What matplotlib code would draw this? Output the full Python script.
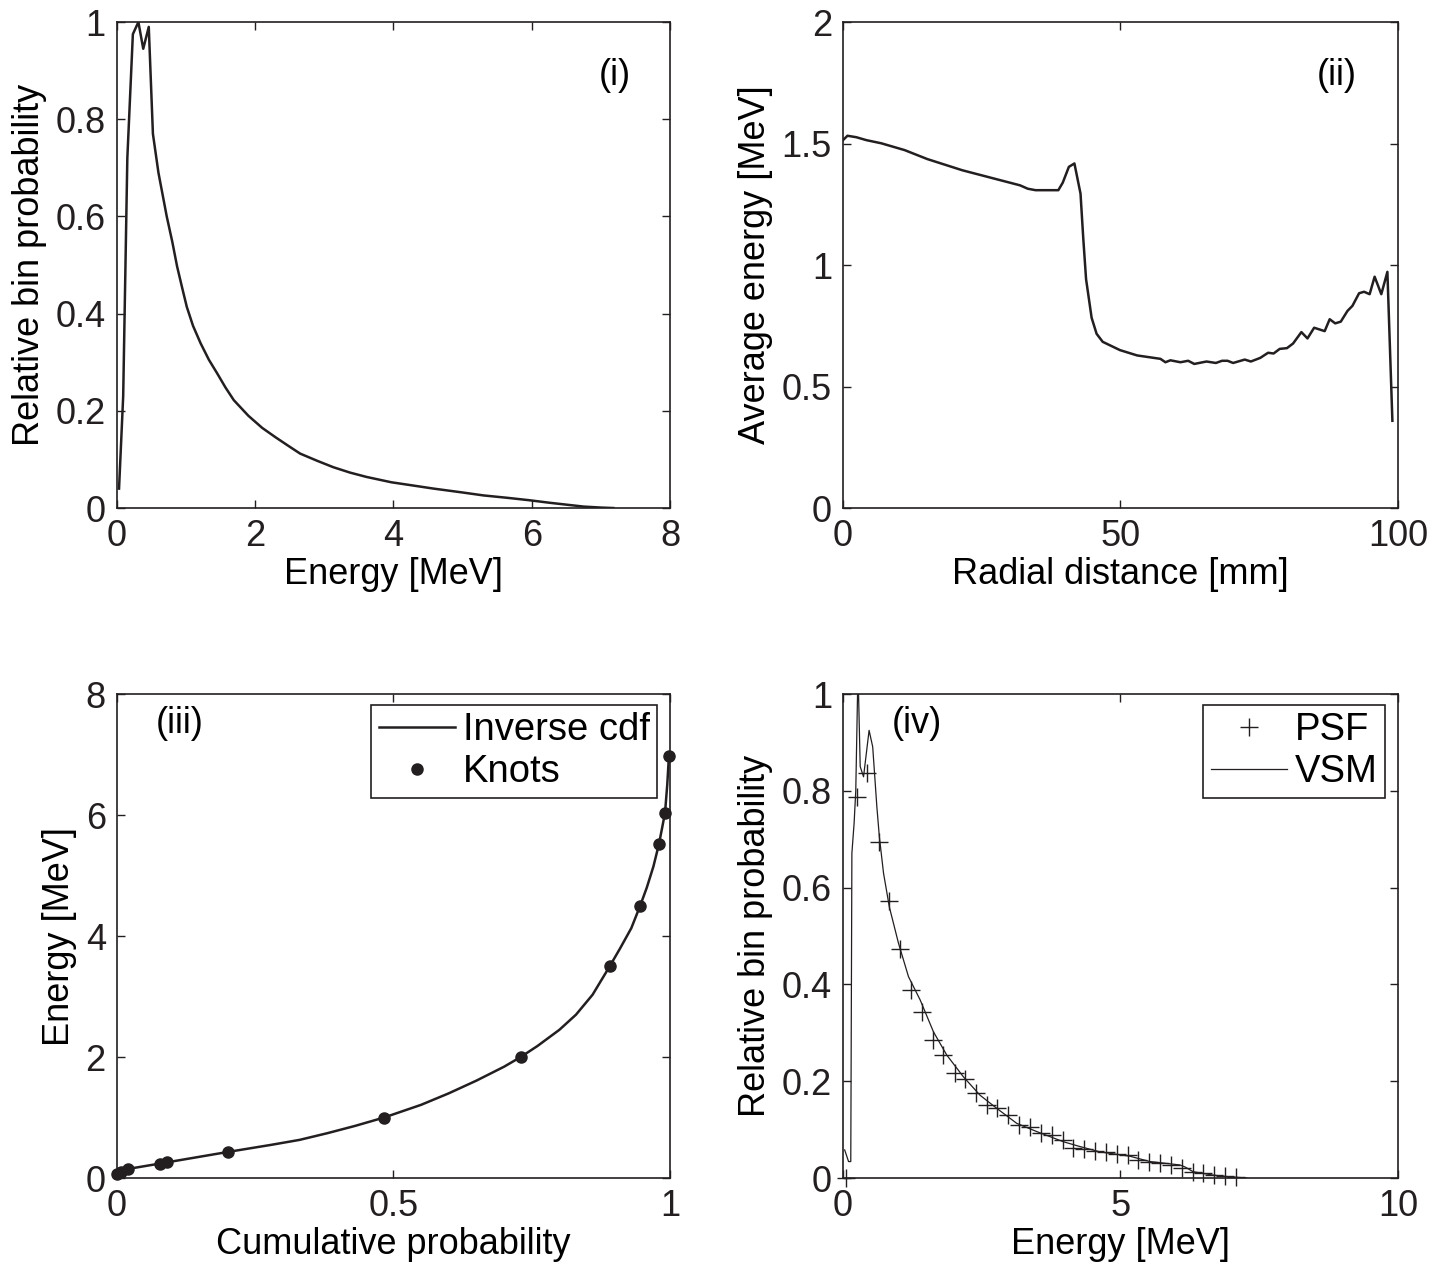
import matplotlib
matplotlib.use("Agg")
import matplotlib.pyplot as plt

plt.rcParams['font.family'] = ['Liberation Sans', 'DejaVu Sans']
plt.rcParams['font.size'] = 26

INK = '#231f20'

# --- (i) energy spectrum ---
e_spec = [0.03, 0.09, 0.15, 0.23, 0.31, 0.38, 0.46, 0.52, 0.60, 0.66, 0.72, 0.80,
          0.87, 0.94, 1.01, 1.10, 1.21, 1.33, 1.45, 1.57, 1.69, 1.90, 2.10, 2.30,
          2.50, 2.65, 2.90, 3.13, 3.37, 3.61, 3.97, 4.30, 4.58, 5.00, 5.30, 5.65,
          5.97, 6.25, 6.50, 6.75, 7.00, 7.18]
p_spec = [0.04, 0.23, 0.72, 0.975, 1.0, 0.945, 0.99, 0.77, 0.69, 0.645, 0.600, 0.548,
          0.497, 0.455, 0.414, 0.375, 0.339, 0.305, 0.277, 0.248, 0.222, 0.19, 0.165,
          0.145, 0.126, 0.112, 0.097, 0.084, 0.073, 0.064, 0.053, 0.046, 0.040,
          0.032, 0.026, 0.021, 0.016, 0.011, 0.007, 0.003, 0.001, 0.0]

# --- (ii) average energy vs radius ---
r_mm = [0, 0.8, 2.4, 4.2, 6.9, 11.1, 15.2, 21.5, 27.7, 31.9, 33.3, 34.7, 38.8, 39.6,
        40.7, 41.7, 42.8, 43.3, 43.8, 44.8, 45.7, 46.8, 49.9, 53.0, 57.2, 58.1, 59.0,
        60.8, 62.2, 63.3, 65.5, 67.2, 68.3, 69.3, 70.3, 72.4, 73.5, 75.2, 76.6, 77.6,
        78.7, 80.0, 81.1, 82.6, 83.7, 84.9, 86.8, 87.7, 88.7, 89.7, 90.9, 91.8, 93.0,
        93.9, 94.9, 95.8, 97.0, 98.1, 99.0]
e_avg = [1.514, 1.532, 1.526, 1.514, 1.501, 1.473, 1.436, 1.390, 1.353, 1.328, 1.314,
         1.308, 1.308, 1.339, 1.404, 1.418, 1.294, 1.108, 0.942, 0.783, 0.717, 0.684,
         0.650, 0.628, 0.614, 0.600, 0.608, 0.600, 0.606, 0.593, 0.603, 0.597, 0.606,
         0.606, 0.597, 0.611, 0.603, 0.618, 0.639, 0.636, 0.655, 0.658, 0.677, 0.724,
         0.698, 0.742, 0.728, 0.777, 0.760, 0.767, 0.811, 0.832, 0.884, 0.890, 0.880,
         0.952, 0.880, 0.972, 0.359]

# --- (iii) inverse cdf and knots ---
cdf_curve = [0.0, 0.008, 0.02, 0.077, 0.091, 0.2, 0.28, 0.33, 0.38, 0.43, 0.483, 0.55,
             0.6, 0.65, 0.7, 0.73, 0.76, 0.8, 0.83, 0.86, 0.891, 0.91, 0.93, 0.946,
             0.958, 0.97, 0.98, 0.986, 0.991, 0.995, 0.998]
e_curve = [0.06, 0.10, 0.15, 0.238, 0.26, 0.43, 0.55, 0.63, 0.74, 0.86, 1.0, 1.21,
           1.40, 1.61, 1.84, 2.0, 2.18, 2.45, 2.7, 3.03, 3.5, 3.8, 4.13, 4.5,
           4.8, 5.15, 5.52, 5.8, 6.04, 6.5, 6.97]
cdf_knots = [0.0, 0.008, 0.02, 0.077, 0.091, 0.2, 0.483, 0.73, 0.891, 0.946, 0.98,
             0.991, 0.998]
e_knots = [0.06, 0.10, 0.15, 0.238, 0.26, 0.43, 1.0, 2.0, 3.5, 4.5, 5.52, 6.04, 6.97]

# --- (iv) PSF vs VSM ---
e_psf = [0.05, 0.25, 0.44, 0.64, 0.82, 1.03, 1.22, 1.42, 1.62, 1.81, 2.02, 2.20, 2.40,
         2.59, 2.78, 2.98, 3.18, 3.37, 3.57, 3.76, 3.96, 4.15, 4.34, 4.54, 4.74, 4.93,
         5.13, 5.32, 5.52, 5.71, 5.91, 6.10, 6.30, 6.49, 6.69, 6.88, 7.08]
p_psf = [0.0, 0.787, 0.836, 0.695, 0.573, 0.473, 0.388, 0.344, 0.285, 0.254, 0.216,
         0.204, 0.176, 0.151, 0.144, 0.130, 0.110, 0.106, 0.092, 0.089, 0.079, 0.063,
         0.060, 0.055, 0.053, 0.049, 0.048, 0.037, 0.034, 0.030, 0.027, 0.020, 0.013,
         0.010, 0.006, 0.004, 0.002]
e_vsm = [0.03, 0.10, 0.14, 0.16, 0.20, 0.23, 0.27, 0.31, 0.37, 0.47, 0.535, 0.61, 0.655,
         0.73, 0.835, 1.0, 1.18, 1.39, 1.63, 1.87, 2.17, 2.47, 2.77, 3.13, 3.49, 3.97,
         4.27, 4.63, 5.17, 5.53, 6.07, 6.16, 6.31, 6.67, 6.91, 7.27]
p_vsm = [0.058, 0.034, 0.034, 0.671, 0.733, 0.80, 1.05, 0.85, 0.829, 0.925, 0.891,
         0.767, 0.705, 0.63, 0.56, 0.485, 0.416, 0.368, 0.302, 0.254, 0.209, 0.171,
         0.144, 0.113, 0.096, 0.075, 0.065, 0.054, 0.045, 0.034, 0.027, 0.023, 0.013,
         0.006, 0.003, 0.0]

fig = plt.figure(figsize=(14.44, 12.66), dpi=100)
ax1 = fig.add_axes([0.081, 0.5987, 0.383, 0.3839])
ax2 = fig.add_axes([0.5838, 0.5987, 0.3843, 0.3839])
ax3 = fig.add_axes([0.081, 0.0695, 0.383, 0.3823])
ax4 = fig.add_axes([0.5838, 0.0695, 0.3843, 0.3823])

def style(ax):
    ax.tick_params(direction='in', top=True, right=True, length=6, width=1,
                   labelsize=26, pad=8, colors=INK)
    for s in ax.spines.values():
        s.set_linewidth(1.2)
        s.set_color(INK)

def fmt(vals):
    return ['%g' % v for v in vals]

def legend(ax):
    leg = ax.legend(loc='upper right', bbox_to_anchor=(0.977, 0.978), fontsize=27.5,
                    fancybox=False, framealpha=1, edgecolor=INK, handlelength=2.0,
                    handletextpad=0.2, borderpad=0.2, labelspacing=0.15, borderaxespad=0)
    leg.get_frame().set_linewidth(1.2)

# (i)
ax1.plot(e_spec, p_spec, color=INK, lw=1.8)
ax1.set_xlim(0, 8)
ax1.set_ylim(0, 1)
ax1.set_xticks([0, 2, 4, 6, 8])
ax1.set_yticks([0, 0.2, 0.4, 0.6, 0.8, 1])
ax1.set_yticklabels(fmt([0, 0.2, 0.4, 0.6, 0.8, 1]))
ax1.set_xlabel('Energy [MeV]', fontsize=26, labelpad=2)
ax1.set_ylabel('Relative bin probability', fontsize=26, labelpad=6)
ax1.text(0.9, 0.89, '(i)', transform=ax1.transAxes, ha='center', va='center', fontsize=26)

# (ii)
ax2.plot(r_mm, e_avg, color=INK, lw=1.8)
ax2.set_xlim(0, 100)
ax2.set_ylim(0, 2)
ax2.set_xticks([0, 50, 100])
ax2.set_yticks([0, 0.5, 1, 1.5, 2])
ax2.set_yticklabels(fmt([0, 0.5, 1, 1.5, 2]))
ax2.set_xlabel('Radial distance [mm]', fontsize=26, labelpad=2)
ax2.set_ylabel('Average energy [MeV]', fontsize=26, labelpad=6)
ax2.text(0.89, 0.89, '(ii)', transform=ax2.transAxes, ha='center', va='center', fontsize=26)

# (iii)
ax3.plot(cdf_curve, e_curve, color=INK, lw=1.8, label='Inverse cdf')
ax3.plot(cdf_knots, e_knots, 'o', color=INK, ms=8, label='Knots', clip_on=False)
ax3.set_xlim(0, 1)
ax3.set_ylim(0, 8)
ax3.set_xticks([0, 0.5, 1])
ax3.set_xticklabels(fmt([0, 0.5, 1]))
ax3.set_yticks([0, 2, 4, 6, 8])
ax3.set_xlabel('Cumulative probability', fontsize=26, labelpad=2)
ax3.set_ylabel('Energy [MeV]', fontsize=26, labelpad=6)
ax3.text(0.114, 0.94, '(iii)', transform=ax3.transAxes, ha='center', va='center', fontsize=26)
legend(ax3)

# (iv)
ax4.plot(e_psf, p_psf, '+', color=INK, ms=13, mew=1.0, label='PSF', clip_on=False)
ax4.plot(e_vsm, p_vsm, color=INK, lw=0.9, label='VSM')
ax4.set_xlim(0, 10)
ax4.set_ylim(0, 1)
ax4.set_xticks([0, 5, 10])
ax4.set_yticks([0, 0.2, 0.4, 0.6, 0.8, 1])
ax4.set_yticklabels(fmt([0, 0.2, 0.4, 0.6, 0.8, 1]))
ax4.set_xlabel('Energy [MeV]', fontsize=26, labelpad=2)
ax4.set_ylabel('Relative bin probability', fontsize=26, labelpad=6)
ax4.text(0.133, 0.94, '(iv)', transform=ax4.transAxes, ha='center', va='center', fontsize=26)
legend(ax4)

for ax in (ax1, ax2, ax3, ax4):
    style(ax)

fig.savefig('out.png', dpi=100, facecolor='white')
